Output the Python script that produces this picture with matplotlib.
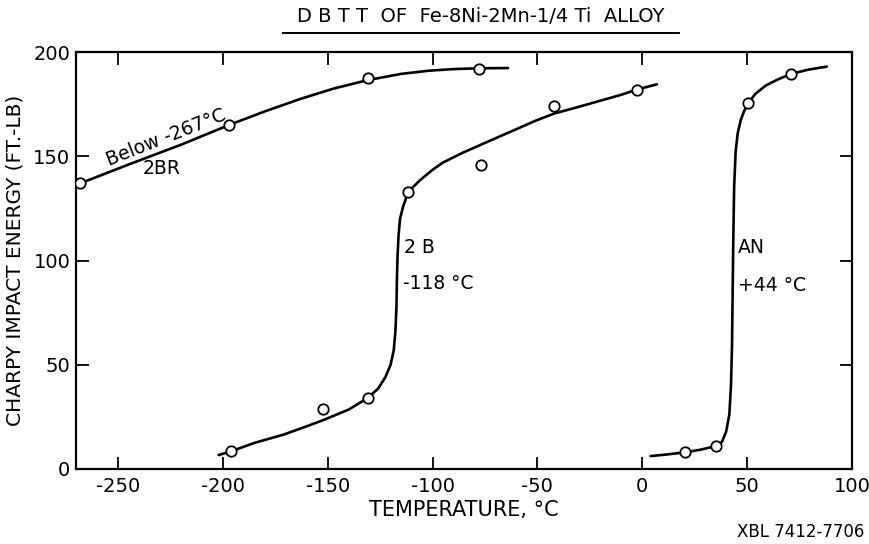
import matplotlib.pyplot as plt
from matplotlib.lines import Line2D

plt.rcParams['font.family'] = ['DejaVu Sans']

# measured points (temperature in C, energy in ft-lb)
br_t = [-268, -197, -131, -78]
br_e = [137, 165, 187.5, 192]
b_t = [-196, -152, -131, -111.5, -77, -42, -2.5]
b_e = [8.5, 29, 34, 133, 146, 174, 182]
an_t = [20.5, 35, 50.5, 71]
an_e = [8, 11, 175.5, 189.5]

# hand drawn curves
br_curve_t = [-268, -245, -220, -197, -180, -163, -147, -131, -115, -102, -90, -78, -64]
br_curve_e = [137, 146, 155.5, 165, 171.5, 177.5, 182.5, 186.5, 189.5, 191, 191.8, 192.2, 192.3]
b_curve_t = [-202, -196, -185, -171, -160, -152, -140, -131, -126, -122.5, -120, -118.5,
             -117.7, -117.2, -117, -116.7, -116.2, -115.5, -114, -111.5, -106, -100, -95,
             -86, -77, -68, -60, -51, -42, -31, -20.5, -10, -2.5, 7]
b_curve_e = [6.7, 8.5, 12.5, 16.5, 20.5, 23.5, 28.5, 34, 38.5, 44, 50, 57,
             66, 78, 90, 102, 112, 120, 126, 133, 138.5, 143.5, 147,
             151.5, 155.5, 159.5, 163, 167, 170.5, 173.5, 176.5, 179.5, 182, 184.5]
an_curve_t = [4, 12, 20.5, 28, 35, 38, 40, 41.5, 42.3, 42.8, 43.1, 43.4, 43.8,
              44.5, 45.5, 47, 48.5, 50.5, 54, 59, 65, 71, 79, 88]
an_curve_e = [6.2, 7, 8, 9.3, 11, 13, 18, 26, 40, 60, 85, 110, 135,
              152, 161, 167.5, 171.5, 175.5, 180, 184, 187, 189.5, 191.5, 193]

xticks = [-250, -200, -150, -100, -50, 0, 50, 100]
yticks = [0, 50, 100, 150, 200]

fig = plt.figure(figsize=(8.69, 5.44), dpi=100)
ax = fig.add_axes([76 / 869, 1 - 469 / 544, (852 - 76) / 869, (469 - 52) / 544])

for ct, ce in [(br_curve_t, br_curve_e), (b_curve_t, b_curve_e), (an_curve_t, an_curve_e)]:
    ax.plot(ct, ce, color='black', lw=1.9, solid_capstyle='round', zorder=2)

for pt, pe in [(br_t, br_e), (b_t, b_e), (an_t, an_e)]:
    ax.plot(pt, pe, 'o', ms=7.5, mfc='white', mec='black', mew=1.3, ls='none', zorder=3)

ax.set_xlim(-270, 100)
ax.set_ylim(0, 200)
ax.set_xticks(xticks)
ax.set_yticks(yticks)
ax.set_xticklabels([str(t) for t in xticks])
ax.tick_params(direction='in', length=9, width=1.3, top=True, right=True,
               labelsize=14, colors='black')
ax.tick_params(axis='x', pad=6)
ax.tick_params(axis='y', pad=4)
for s in ax.spines.values():
    s.set_linewidth(1.6)

ax.set_xlabel('TEMPERATURE, °C', fontsize=15, labelpad=3)
ax.set_ylabel('CHARPY IMPACT ENERGY (FT.-LB)', fontsize=14.5, labelpad=6)

# curve labels
ax.text(-227, 159, 'Below -267°C', fontsize=13.5, rotation=21.5,
        ha='center', va='center', rotation_mode='anchor')
ax.text(-229, 144, '2BR', fontsize=13.5, ha='center', va='center')
ax.text(-113.5, 106, '2 B', fontsize=13.5, ha='left', va='center')
ax.text(-114, 89, '-118 °C', fontsize=13.5, ha='left', va='center')
ax.text(45.5, 106, 'AN', fontsize=13.5, ha='left', va='center')
ax.text(45.5, 88, '+44 °C', fontsize=13.5, ha='left', va='center')

# underlined title
fig.text(481 / 869, 1 - 16 / 544, 'D B T T  OF  Fe-8Ni-2Mn-1/4 Ti  ALLOY', fontsize=14,
         ha='center', va='center')
fig.lines.append(Line2D([283 / 869, 679 / 869], [1 - 33 / 544, 1 - 33 / 544],
                        transform=fig.transFigure, color='black', lw=1.4))

fig.text(864 / 869, 1 - 532 / 544, 'XBL 7412-7706', fontsize=12, ha='right', va='center')

fig.savefig('out.png', dpi=100)
